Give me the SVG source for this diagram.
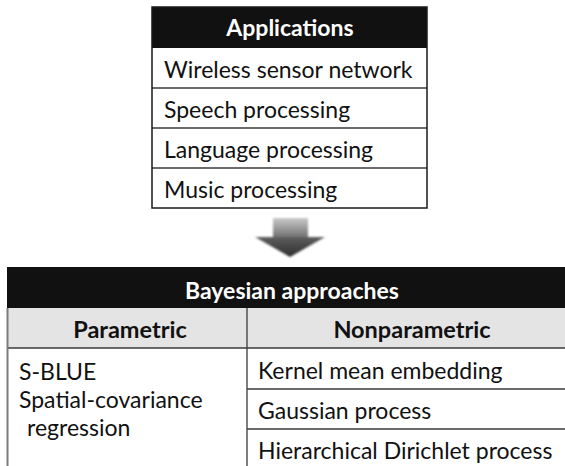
<svg xmlns="http://www.w3.org/2000/svg" width="565" height="466" viewBox="0 0 565 466">
  <style>
    .hdr { fill: #111111; }
    .sub { fill: #e4e4e4; }
    .cell { fill: #ffffff; }
    .frame { fill: none; stroke: #1a1a1a; stroke-width: 1.5; }
    .rule { stroke: #3a3a3a; stroke-width: 1.3; fill: none; }
    .side { stroke: #7a7a7a; stroke-width: 2; fill: none; }
    .t { font-family: Lato, "Open Sans", sans-serif; font-size: 23px; fill: #111111; }
    .th { font-family: Lato, "Open Sans", sans-serif; font-size: 23px; font-weight: bold; fill: #ffffff; }
    .tc { font-family: Lato, "Open Sans", sans-serif; font-size: 23.5px; font-weight: bold; fill: #111111; }
  </style>
  <defs>
    <linearGradient id="shaftGrad" x1="0" y1="0" x2="0" y2="1">
      <stop offset="0" stop-color="#c9c9c9"/>
      <stop offset="1" stop-color="#6e6e6e"/>
    </linearGradient>
    <linearGradient id="headGrad" x1="0" y1="0" x2="0" y2="1">
      <stop offset="0" stop-color="#5e5e5e"/>
      <stop offset="1" stop-color="#2e2e2e"/>
    </linearGradient>
    <filter id="soft" x="-20%" y="-20%" width="140%" height="140%">
      <feGaussianBlur stdDeviation="0.8"/>
    </filter>
  </defs>

  <rect width="565" height="466" fill="#ffffff"/>

  <!-- Applications list -->
  <g id="applications">
    <rect class="cell" x="152" y="7" width="275" height="201"/>
    <rect class="hdr" x="152" y="7" width="275" height="41"/>
    <line class="rule" x1="152" y1="88" x2="427" y2="88"/>
    <line class="rule" x1="152" y1="128" x2="427" y2="128"/>
    <line class="rule" x1="152" y1="168" x2="427" y2="168"/>
    <rect class="frame" x="152" y="7" width="275" height="201"/>
    <text class="th" x="290" y="36" text-anchor="middle">Applications</text>
    <text class="t" x="164" y="78">Wireless sensor network</text>
    <text class="t" x="164" y="118">Speech processing</text>
    <text class="t" x="164" y="158">Language processing</text>
    <text class="t" x="164" y="198">Music processing</text>
  </g>

  <!-- Down arrow between the two tables -->
  <g id="connectors">
    <g filter="url(#soft)">
      <rect x="273" y="218" width="35" height="20" fill="url(#shaftGrad)"/>
      <path d="M255,237 L325,237 L290,257 Z" fill="url(#headGrad)"/>
    </g>
  </g>

  <!-- Bayesian approaches table -->
  <g id="bayesian">
    <rect class="hdr" x="7" y="267" width="570" height="41"/>
    <rect class="sub" x="7" y="308" width="570" height="40"/>
    <line class="rule" x1="7" y1="348" x2="565" y2="348"/>
    <line class="rule" x1="247" y1="308" x2="247" y2="466"/>
    <line class="side" x1="7.5" y1="308" x2="7.5" y2="466"/>
    <text class="th" x="292" y="299" text-anchor="middle">Bayesian approaches</text>
  </g>

  <g id="parametric">
    <text class="tc" x="130" y="338" text-anchor="middle">Parametric</text>
    <text class="t" x="19" y="380">S-BLUE</text>
    <text class="t" x="19" y="408">Spatial-covariance</text>
    <text class="t" x="27" y="436">regression</text>
  </g>

  <g id="nonparametric">
    <text class="tc" x="412" y="338" text-anchor="middle">Nonparametric</text>
    <line class="rule" x1="247" y1="389" x2="565" y2="389"/>
    <line class="rule" x1="247" y1="429" x2="565" y2="429"/>
    <text class="t" x="258" y="379">Kernel mean embedding</text>
    <text class="t" x="258" y="419">Gaussian process</text>
    <text class="t" x="258" y="459">Hierarchical Dirichlet process</text>
  </g>
</svg>
